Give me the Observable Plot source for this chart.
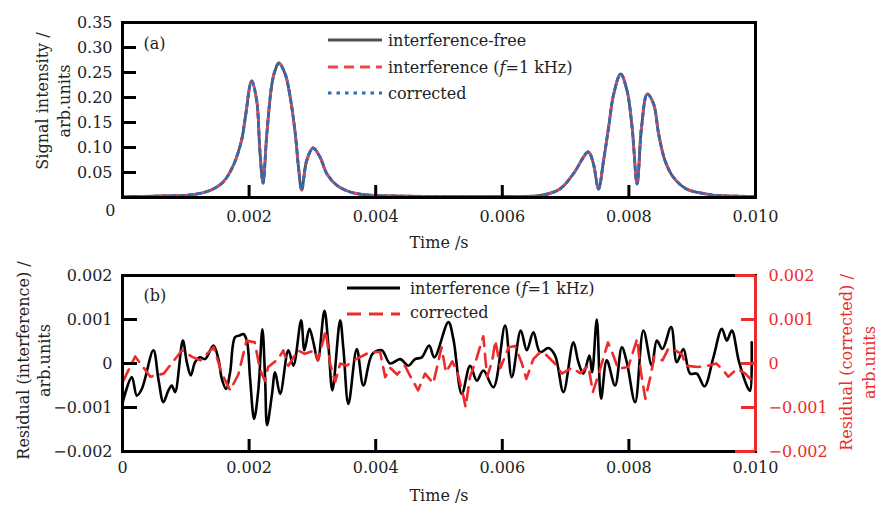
<!DOCTYPE html>
<html><head><meta charset="utf-8">
<script src="https://cdn.jsdelivr.net/npm/d3@7"></script>
<script src="https://cdn.jsdelivr.net/npm/@observablehq/plot@0.6"></script>
<style>
html,body{margin:0;padding:0;background:#fff;}
#wrap{position:relative;width:879px;height:505px;overflow:hidden;background:#fff;}
#wrap svg{position:absolute;left:0;display:block;}
</style></head><body><div id="wrap"></div>
<script>
// ---------- data ----------
// Panel (a): signal (time in ms); the three series coincide at this scale
const timeSignal = [0, 0.5, 0.8, 1.07, 1.38, 1.59, 1.75, 1.88, 1.94, 2.04, 2.12, 2.17, 2.22, 2.28, 2.36, 2.41, 2.47, 2.57, 2.65, 2.73, 2.78, 2.83, 2.91, 3.01, 3.12, 3.23, 3.39, 3.60, 3.86, 4.3, 5.0, 6.0, 6.6, 6.91, 7.12, 7.36, 7.44, 7.52, 7.60, 7.68, 7.76, 7.87, 7.97, 8.05, 8.13, 8.20, 8.29, 8.39, 8.47, 8.57, 8.70, 8.91, 9.23, 9.39, 10.0];
const signalFree = [0.002, 0.0025, 0.0035, 0.005, 0.014, 0.031, 0.064, 0.114, 0.160, 0.233, 0.194, 0.094, 0.029, 0.127, 0.227, 0.254, 0.269, 0.247, 0.200, 0.127, 0.061, 0.015, 0.074, 0.099, 0.081, 0.047, 0.024, 0.011, 0.005, 0.003, 0.002, 0.002, 0.004, 0.017, 0.047, 0.091, 0.067, 0.017, 0.074, 0.141, 0.207, 0.247, 0.214, 0.141, 0.027, 0.141, 0.207, 0.187, 0.127, 0.074, 0.041, 0.017, 0.007, 0.004, 0.002];
const signalInterference = signalFree;
const signalCorrected = signalFree;

// Panel (b): residuals (time in ms, residual in units of 1e-3)
const timeResInterf = [0, 0.147, 0.226, 0.305, 0.488, 0.567, 0.646, 0.725, 0.779, 0.831,
  0.953, 1.016, 1.079, 1.147, 1.226, 1.305, 1.436, 1.515, 1.569, 1.637,
  1.700, 1.779, 1.858, 1.910, 1.964, 2.016, 2.079, 2.147, 2.210, 2.253,
  2.284, 2.359, 2.411, 2.490, 2.621, 2.700, 2.822, 2.874, 2.953, 3.016,
  3.085, 3.190, 3.253, 3.316, 3.438, 3.490, 3.569, 3.701, 3.806, 3.948,
  4.096, 4.227, 4.386, 4.517, 4.622, 4.728, 4.844, 4.927, 5.148, 5.227,
  5.360, 5.491, 5.597, 5.701, 5.859, 6.044, 6.150, 6.292, 6.387, 6.491,
  6.597, 6.728, 6.834, 6.965, 7.123, 7.202, 7.281, 7.376, 7.419, 7.493,
  7.561, 7.651, 7.782, 7.888, 7.967, 8.098, 8.229, 8.362, 8.441, 8.529,
  8.667, 8.757, 8.861, 8.967, 9.073, 9.193, 9.335, 9.468, 9.547, 9.626,
  9.741, 9.888, 9.915, 9.94];
const residualInterf = [-0.90, -0.31, -0.73, -0.58, 0.30, -0.35, -0.88, -0.61, -0.50, -0.65,
  0.52, 0.03, -0.27, 0.03, 0.14, 0.10, 0.41, 0.10, -0.35, -0.58,
  -0.20, 0.60, 0.64, 0.67, 0.52, -0.35, -1.26, -0.58, 0.78, -0.35,
  -1.40, -0.73, -0.20, -0.69, 0.30, -0.05, 0.98, 0.30, 0.79, 0.48,
  0.07, 1.20, 0.41, -0.61, 0.98, 0.33, -0.92, 0.33, -0.50, 0.22,
  0.30, 0.00, 0.10, -0.05, 0.10, 0.14, 0.41, 0.14, 0.94, 0.56,
  -0.69, -0.05, -0.39, -0.16, -0.54, 0.86, -0.31, 0.75, 0.30, 0.71,
  0.26, 0.35, 0.18, -0.65, 0.48, 0.03, -0.23, 0.18, -0.20, 1.00,
  -0.80, 0.07, -0.50, 0.37, 0.03, -0.88, 0.75, -0.05, 0.52, 0.33,
  0.83, 0.03, 0.33, -0.23, -0.23, -0.52, 0.14, 0.79, 0.52, 0.75,
  0.03, -0.58, -0.62, 0.48];
const timeResCorr = [0.01, 0.20, 0.44, 0.65, 0.94, 1.10, 1.23, 1.44, 1.57, 1.70,
  1.83, 1.96, 2.09, 2.17, 2.25, 2.30, 2.46, 2.54, 2.62, 2.77,
  2.88, 3.04, 3.09, 3.21, 3.28, 3.36, 3.44, 3.54, 3.69, 3.91,
  4.07, 4.15, 4.23, 4.34, 4.46, 4.54, 4.67, 4.78, 4.91, 5.04,
  5.11, 5.21, 5.30, 5.39, 5.42, 5.49, 5.59, 5.70, 5.76, 5.84,
  5.89, 5.97, 6.10, 6.20, 6.31, 6.38, 6.49, 6.60, 6.69, 6.83,
  6.94, 7.10, 7.23, 7.36, 7.43, 7.51, 7.67, 7.75, 7.83, 7.99,
  8.13, 8.19, 8.26, 8.34, 8.40, 8.53, 8.62, 8.73, 8.84, 8.90,
  9.09, 9.25, 9.38, 9.49, 9.57, 9.71, 9.84, 9.95];
const residualCorr = [-0.40, 0.16, -0.30, -0.23, 0.30, 0.15, 0.07, 0.37, -0.23, -0.61,
  -0.25, 0.52, 0.48, -0.12, -0.40, -0.08, 0.10, 0.30, -0.05, 0.30,
  0.22, 0.30, 0.07, 0.75, 0.00, -0.42, 0.00, -0.05, 0.10, 0.26,
  0.26, -0.31, -0.10, -0.25, -0.05, -0.27, -0.61, -0.23, -0.45, 0.37,
  -0.20, 0.05, -0.25, -0.77, -0.99, -0.30, 0.10, 0.62, -0.30, 0.05,
  0.52, -0.10, 0.37, 0.40, 0.00, -0.35, 0.10, 0.26, 0.20, 0.00,
  -0.23, -0.10, -0.22, -0.05, -0.65, -0.30, 0.48, 0.20, -0.12, -0.08,
  0.56, -0.20, -0.80, -0.30, 0.15, 0.07, 0.33, 0.30, 0.20, -0.05,
  -0.08, -0.05, 0.00, -0.15, -0.30, -0.12, -0.23, -0.40];

const xTicks = [0, 0.002, 0.004, 0.006, 0.008, 0.010];
const yTicksA = [0.05, 0.10, 0.15, 0.20, 0.25, 0.30, 0.35];
const yTicksB = [-0.002, -0.001, 0, 0.001, 0.002];
const legendA = ["interference-free", "interference (", "f", "=1 kHz)", "corrected"];
const legendB = ["interference (", "f", "=1 kHz)", "corrected"];

// ---------- styles ----------
const FONT = '"DejaVu Serif", serif';
const GRAY = "#505050", RED_A = "#f04646", BLUE = "#2f6cb8", RED = "#ee2a2a";
const W = 879;
const frameW = 755 - 122;

const dataA = timeSignal.map((t, i) => ({t: t * 1e-3, free: signalFree[i], intf: signalInterference[i], corr: signalCorrected[i]}));
const dataB1 = timeResInterf.map((t, i) => ({t: t * 1e-3, v: residualInterf[i] * 1e-3}));
const dataB2 = timeResCorr.map((t, i) => ({t: t * 1e-3, v: residualCorr[i] * 1e-3}));

const fmtB = d => d === 0 ? "0" : d3.format(".3f")(d);

const topPlot = Plot.plot({
  width: W, height: 250,
  marginLeft: 122, marginRight: 124, marginTop: 22, marginBottom: 53,
  style: {fontFamily: FONT, fontSize: "16px", color: "#222", background: "white", overflow: "visible"},
  x: {domain: [0, 0.010]},
  y: {domain: [0, 0.35]},
  marks: [
    Plot.line(dataA, {x: "t", y: "free", stroke: GRAY, strokeWidth: 2.8, curve: "catmull-rom"}),
    Plot.line(dataA, {x: "t", y: "intf", stroke: RED_A, strokeWidth: 2.8, strokeDasharray: "10,6", curve: "catmull-rom"}),
    Plot.line(dataA, {x: "t", y: "corr", stroke: BLUE, strokeWidth: 2.8, strokeDasharray: "3.5,5", strokeDashoffset: 2, curve: "catmull-rom"}),
    Plot.frame({stroke: "#000", strokeWidth: 3}),
    Plot.tickX(xTicks.slice(1, 5), {x: d => d, stroke: "#000", strokeWidth: 3, insetTop: 175 - 12}),
    Plot.tickY(yTicksA.slice(0, 6), {y: d => d, stroke: "#000", strokeWidth: 3, insetRight: frameW - 14}),
    Plot.axisX({ticks: xTicks.slice(1), tickSize: 0, tickPadding: 13, tickFormat: d3.format(".3f"), label: null}),
    Plot.axisY({ticks: yTicksA, tickSize: 0, tickPadding: 10, tickFormat: d3.format(".2f"), label: null}),
    Plot.text([0], {y: d => d, text: () => "0", frameAnchor: "left", textAnchor: "end", lineAnchor: "middle", dx: -7, dy: 13}),
    Plot.text(["Time /s"], {text: d => d, frameAnchor: "bottom", textAnchor: "middle", lineAnchor: "middle", dy: 45}),
    Plot.text(["Signal intensity /\narb.units"], {text: d => d, frameAnchor: "left", rotate: -90, textAnchor: "middle", lineAnchor: "middle", dx: -71, dy: -9, lineHeight: 1.375}),
    Plot.text(["(a)"], {text: d => d, frameAnchor: "top-left", textAnchor: "start", lineAnchor: "middle", dx: 21, dy: 21.5})
  ]
});

const bottomPlot = Plot.plot({
  width: W, height: 255,
  marginLeft: 122, marginRight: 124, marginTop: 25, marginBottom: 54,
  style: {fontFamily: FONT, fontSize: "16px", color: "#222", background: "transparent", overflow: "visible"},
  x: {domain: [0, 0.010]},
  y: {domain: [-0.002, 0.002]},
  marks: [
    Plot.line(dataB1, {x: "t", y: "v", stroke: "#000", strokeWidth: 2.6, curve: "catmull-rom"}),
    Plot.line(dataB2, {x: "t", y: "v", stroke: RED, strokeWidth: 2.6, strokeDasharray: "13,8"}),
    Plot.frame({stroke: "#000", strokeWidth: 3}),
    Plot.ruleX([xTicks[xTicks.length - 1]], {x: d => d, stroke: RED, strokeWidth: 3}),
    Plot.ruleY([yTicksB[0], yTicksB[4]], {y: d => d, stroke: RED, strokeWidth: 3, insetLeft: frameW - 20}),
    Plot.tickX(xTicks.slice(1, 5), {x: d => d, stroke: "#000", strokeWidth: 3, insetTop: 176 - 12}),
    Plot.tickY(yTicksB.slice(1, 4), {y: d => d, stroke: "#000", strokeWidth: 3, insetRight: frameW - 15}),
    Plot.tickY(yTicksB.slice(1, 4), {y: d => d, stroke: RED, strokeWidth: 3, insetLeft: frameW - 14}),
    Plot.axisX({ticks: xTicks, tickSize: 0, tickPadding: 10, tickFormat: fmtB, label: null}),
    Plot.axisY({ticks: yTicksB, tickSize: 0, tickPadding: 10, tickFormat: fmtB, label: null}),
    Plot.axisY({ticks: yTicksB, anchor: "right", tickSize: 0, tickPadding: 13, tickFormat: fmtB, fill: RED, label: null}),
    Plot.text(["Time /s"], {text: d => d, frameAnchor: "bottom", textAnchor: "middle", lineAnchor: "middle", dy: 44}),
    Plot.text(["Residual (interference) /\narb.units"], {text: d => d, frameAnchor: "left", rotate: -90, textAnchor: "middle", lineAnchor: "middle", dx: -89.5, dy: -3, lineHeight: 1.31}),
    Plot.text(["Residual (corrected) /\narb.units"], {text: d => d, frameAnchor: "right", rotate: -90, textAnchor: "middle", lineAnchor: "middle", fill: RED, dx: 101, dy: -1, lineHeight: 1.44}),
    Plot.text(["(b)"], {text: d => d, frameAnchor: "top-left", textAnchor: "start", lineAnchor: "middle", dx: 21, dy: 20.5})
  ]
});

const wrap = document.getElementById("wrap");
topPlot.style.top = "0px";
bottomPlot.style.top = "250px";
wrap.appendChild(topPlot);
wrap.appendChild(bottomPlot);

// ---------- legends (overlay) ----------
const ns = "http://www.w3.org/2000/svg";
const leg = document.createElementNS(ns, "svg");
leg.setAttribute("width", W); leg.setAttribute("height", 505);
leg.style.top = "0px"; leg.style.pointerEvents = "none";
leg.setAttribute("font-family", FONT); leg.setAttribute("font-size", "16");
function seg(x1, x2, y, stroke, dash) {
  const l = document.createElementNS(ns, "line");
  l.setAttribute("x1", x1); l.setAttribute("x2", x2); l.setAttribute("y1", y); l.setAttribute("y2", y);
  l.setAttribute("stroke", stroke); l.setAttribute("stroke-width", 2.8);
  if (dash) l.setAttribute("stroke-dasharray", dash);
  leg.appendChild(l);
}
function txt(x, y, parts) {
  const t = document.createElementNS(ns, "text");
  t.setAttribute("x", x); t.setAttribute("y", y); t.setAttribute("dy", "0.35em"); t.setAttribute("fill", "#222");
  parts.forEach(p => {
    const s = document.createElementNS(ns, "tspan");
    s.textContent = p.text;
    if (p.italic) s.setAttribute("font-style", "italic");
    t.appendChild(s);
  });
  leg.appendChild(t);
}
seg(328, 382, 40, GRAY);
seg(328, 382, 67, RED_A, "10,6");
seg(328, 382, 93, BLUE, "3.5,5");
txt(388, 40, [{text: legendA[0]}]);
txt(388, 67, [{text: legendA[1]}, {text: legendA[2], italic: true}, {text: legendA[3]}]);
txt(388, 93, [{text: legendA[4]}]);
seg(347, 400, 288, "#000");
seg(347, 400, 314, RED, "14,8");
txt(410, 288, [{text: legendB[0]}, {text: legendB[1], italic: true}, {text: legendB[2]}]);
txt(410, 312, [{text: legendB[3]}]);
wrap.appendChild(leg);
</script>
</body></html>
